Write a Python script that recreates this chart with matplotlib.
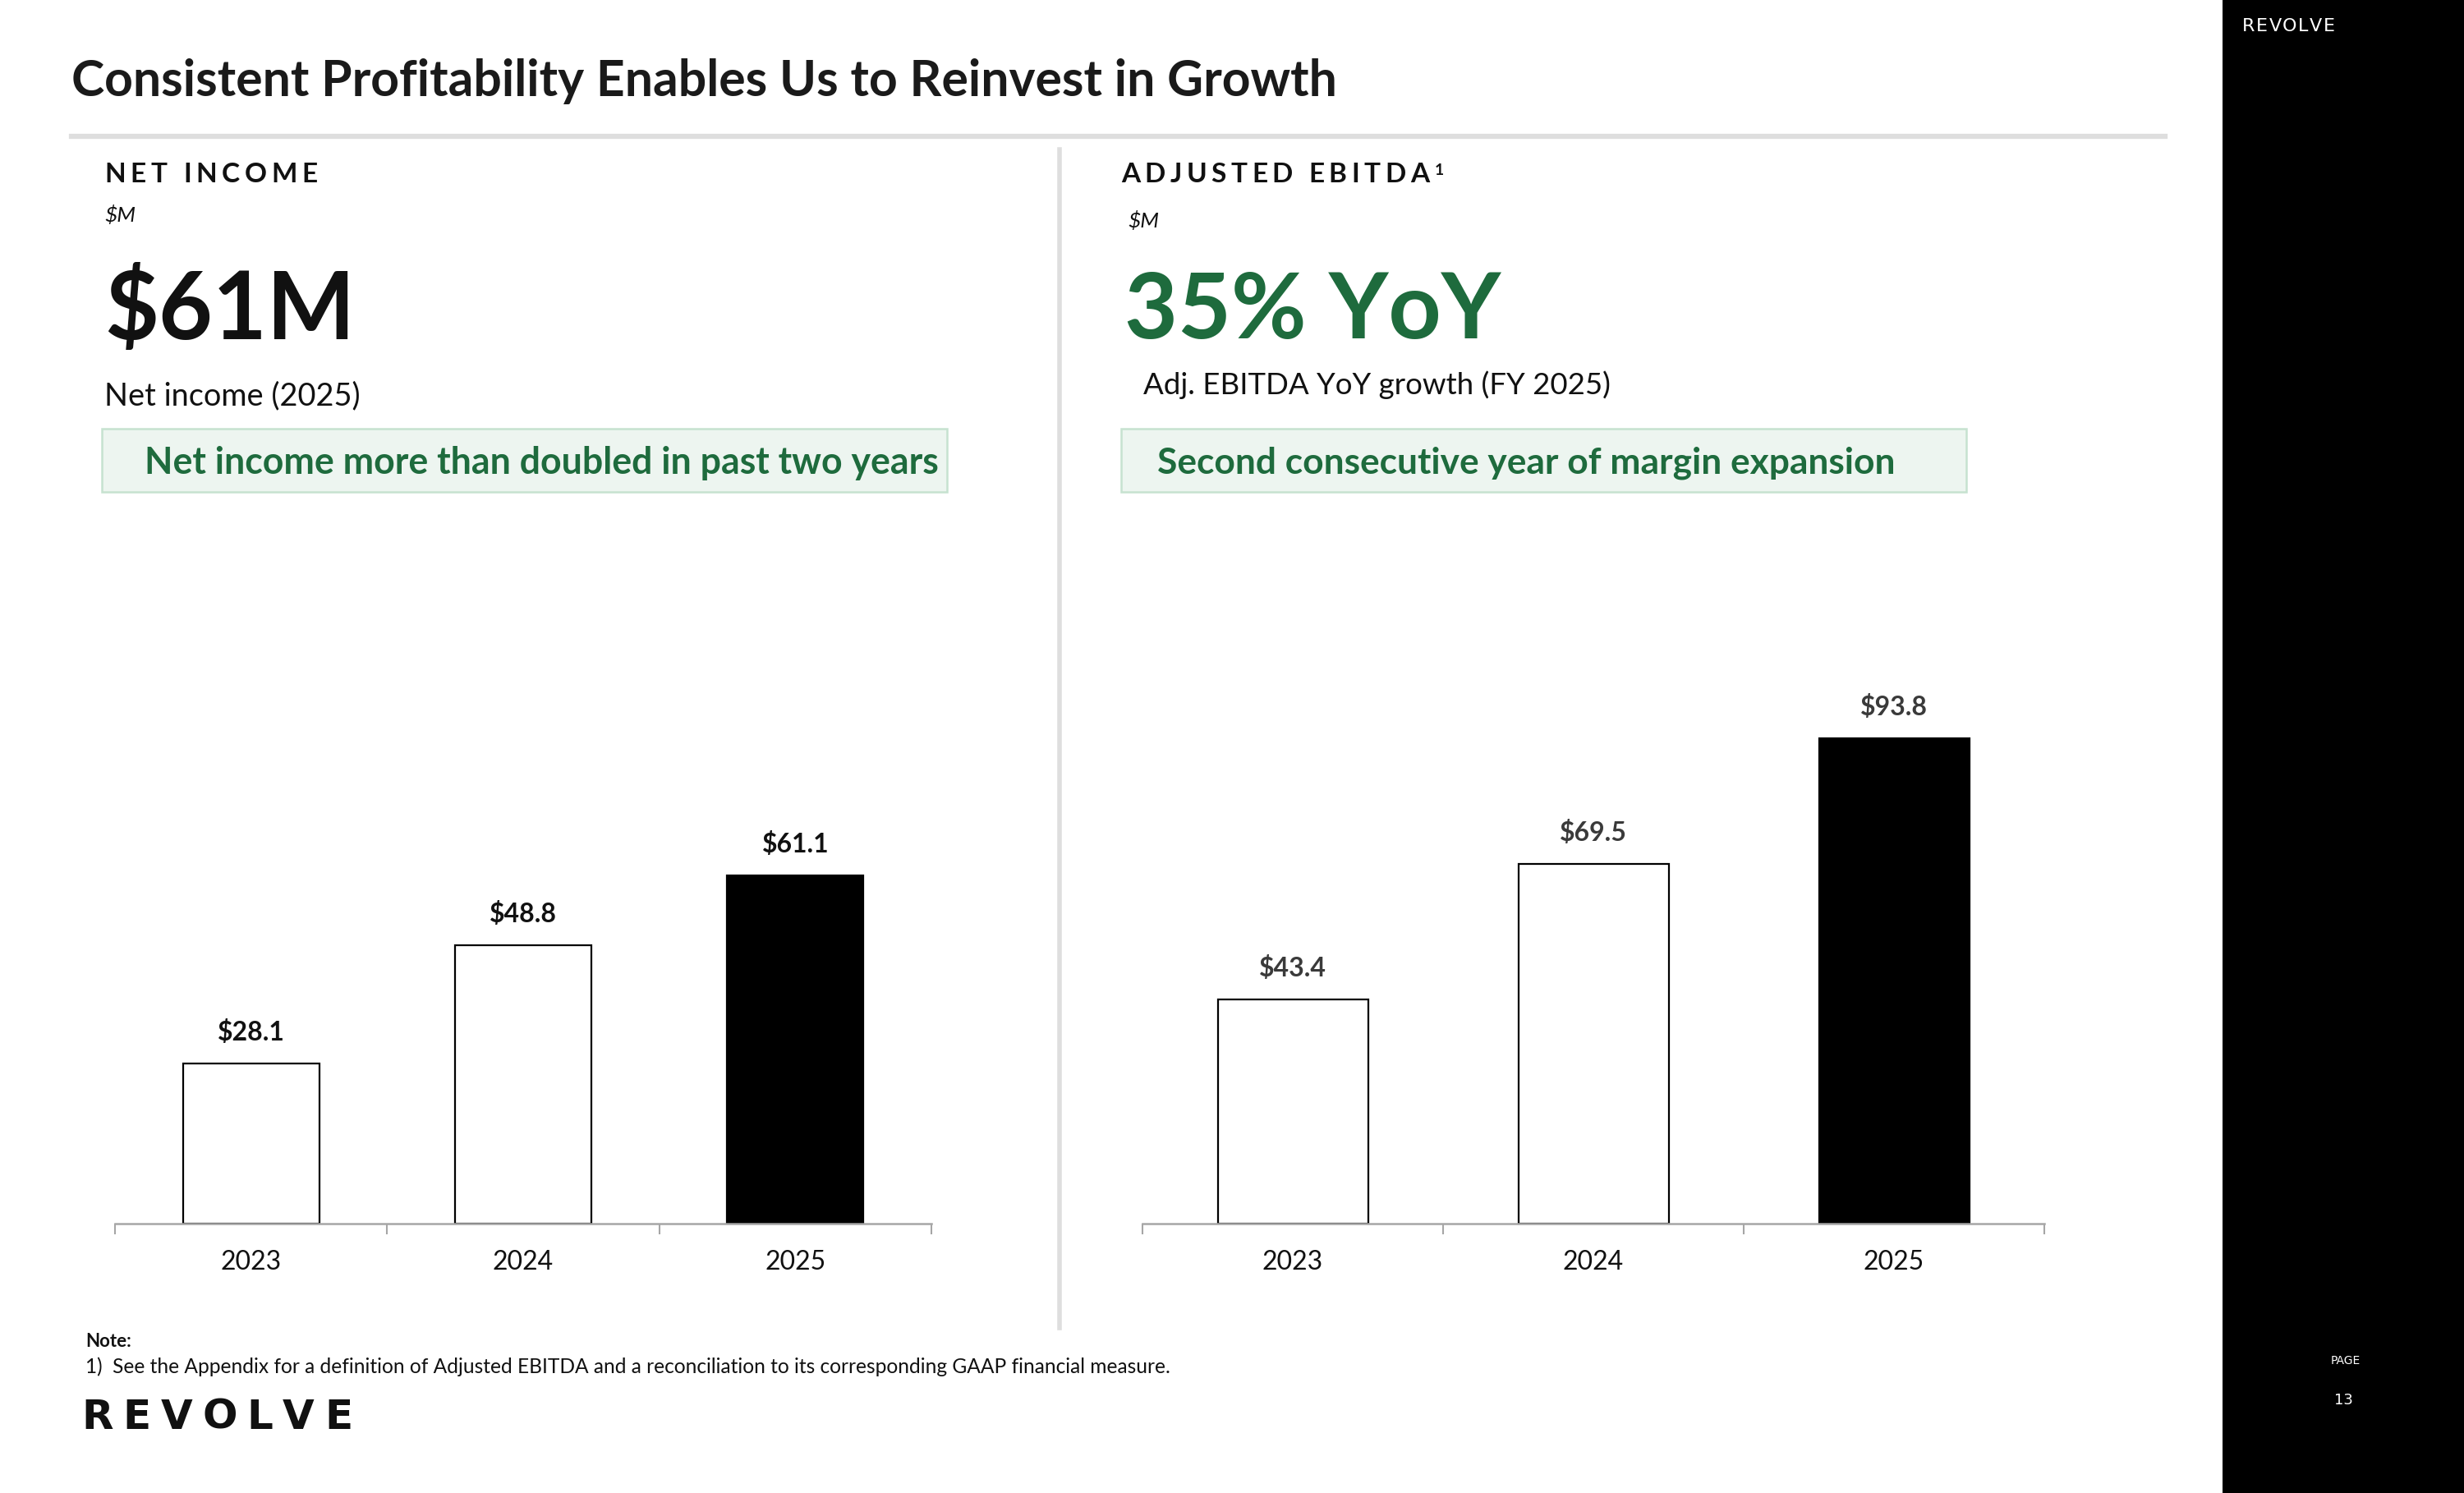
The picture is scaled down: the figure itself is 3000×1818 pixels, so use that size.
import matplotlib
matplotlib.use('Agg')
import matplotlib.pyplot as plt
from matplotlib.patches import Rectangle
from matplotlib.lines import Line2D

plt.rcParams['font.family'] = ['Lato', 'DejaVu Sans']

# chart data
years = ['2023', '2024', '2025']
net_income = [28.1, 48.8, 61.1]
adj_ebitda = [43.4, 69.5, 93.8]
bar_fill = ['white', 'white', 'black']

title = 'Consistent Profitability Enables Us to Reinvest in Growth'
left_head = 'NET INCOME'
right_head = 'ADJUSTED EBITDA'
left_big = '$61M'
right_big = '35% YoY'
left_sub = 'Net income (2025)'
right_sub = 'Adj. EBITDA YoY growth (FY 2025)'
left_box = 'Net income more than doubled in past two years'
right_box = 'Second consecutive year of margin expansion'
note_text = '1)  See the Appendix for a definition of Adjusted EBITDA and a reconciliation to its corresponding GAAP financial measure.'

GREEN = '#1e6b3d'
W, H = 3000, 1818

fig = plt.figure(figsize=(30, 18.18), dpi=100)
renderer = fig.canvas.get_renderer()


def fx(x):
    return x / W


def fy(y):
    return 1 - y / H


# text scaled so that it spans the given pixel width
def fit_text(x, y, s, width, **kw):
    t = fig.text(fx(x), fy(y), s, va='baseline', **kw)
    w = t.get_window_extent(renderer).width
    t.set_fontsize(t.get_fontsize() * width / w)
    return t


# letter spaced text, stretched to the given pixel width
def spaced_text(x, y, s, width, size, **kw):
    chars = []
    widths = []
    for ch in s:
        t = fig.text(fx(x), fy(y), ch, va='baseline', fontsize=size, **kw)
        chars.append(t)
        if ch == ' ':
            widths.append(size * 0.25 * 100 / 72)
        else:
            widths.append(t.get_window_extent(renderer).width)
    gap = (width - sum(widths)) / max(len(s) - 1, 1)
    pos = x
    for t, w in zip(chars, widths):
        t.set_x(fx(pos))
        pos += w + gap
    return pos


# black side panel
fig.patches.append(Rectangle((fx(2706), 0), 1 - fx(2706), 1, transform=fig.transFigure,
                             facecolor='black', edgecolor='none', zorder=0))
spaced_text(2730, 38, 'REVOLVE', 113, 16, color='white', family='DejaVu Sans')
fig.text(fx(2856), fy(1657), 'PAGE', color='white', fontsize=10, ha='center', va='center',
         family='DejaVu Sans')
fig.text(fx(2853), fy(1705), '13', color='white', fontsize=13, ha='center', va='center',
         family='DejaVu Sans')

# title and separators
fit_text(87, 117, title, 1540, fontsize=40, fontweight='bold', color='#1a1a1a')
fig.add_artist(Line2D([fx(87), fx(2636)], [fy(166), fy(166)], color='#dedede', linewidth=4.5))
fig.add_artist(Line2D([fx(1290), fx(1290)], [fy(182), fy(1617)], color='#dedede', linewidth=4))

# headers
spaced_text(127, 222, left_head, 260, 24, fontweight='bold', color='#111111')
spaced_text(1365, 222, right_head, 375, 24, fontweight='bold', color='#111111')
fig.text(fx(1747), fy(213), '1', fontsize=14, fontweight='bold', color='#111111', va='baseline')
fig.text(fx(127), fy(270), '$M', fontsize=19, style='italic', color='#111111', va='baseline')
fig.text(fx(1373), fy(277), '$M', fontsize=19, style='italic', color='#111111', va='baseline')

fit_text(127, 413, left_big, 305, fontsize=80, fontweight='bold', color='#111111')
fit_text(1369, 412, right_big, 458, fontsize=80, fontweight='bold', color=GREEN)
fit_text(127, 493, left_sub, 311, fontsize=26, color='#111111')
fit_text(1392, 480, right_sub, 568, fontsize=26, color='#111111')

# highlight boxes
for x0, x1 in [(124, 1153), (1365, 2394)]:
    fig.patches.append(Rectangle((fx(x0), fy(599)), fx(x1) - fx(x0), fy(522) - fy(599),
                                 transform=fig.transFigure, facecolor='#edf5f0',
                                 edgecolor='#c6e2d0', linewidth=1.8, zorder=1))
fit_text(176, 577, left_box, 966, fontsize=28, fontweight='bold', color=GREEN)
fit_text(1409, 577, right_box, 898, fontsize=28, fontweight='bold', color=GREEN)


# bar chart panels
def bar_panel(rect, values, ymax, label_color):
    ax = fig.add_axes(rect)
    x = range(len(years))
    ax.bar(x, values, width=0.5, color=bar_fill, edgecolor='black', linewidth=1.6, zorder=2)
    for i, v in enumerate(values):
        ax.annotate('${:.1f}'.format(v), (i, v), xytext=(0, 28), textcoords='offset pixels',
                    ha='center', va='baseline', fontsize=23, fontweight='bold', color=label_color)
    ax.set_xlim(-0.5, len(years) - 0.5)
    ax.set_ylim(0, ymax)
    ax.set_xticks(list(x))
    ax.set_xticklabels(years, fontsize=23, color='#111111')
    ax.set_xticks([-0.5, 0.5, 1.5, 2.5], minor=True)
    ax.tick_params(axis='x', which='major', length=0, pad=23)
    ax.tick_params(axis='x', which='minor', length=9, width=1.5, color='#a6a6a6', direction='out')
    ax.set_yticks([])
    for side in ['top', 'left', 'right']:
        ax.spines[side].set_visible(False)
    ax.spines['bottom'].set_color('#a6a6a6')
    ax.spines['bottom'].set_linewidth(1.8)
    ax.patch.set_alpha(0)
    return ax


axes_h = (1490 - 765) / H
bar_panel([fx(140), fy(1490), (1134 - 140) / W, axes_h], net_income, 104.5, '#111111')
bar_panel([fx(1391), fy(1490), (2489 - 1391) / W, axes_h], adj_ebitda, 115.1, '#3a3a3a')

# footnote and logo
fig.text(fx(104), fy(1640), 'Note:', fontsize=16, fontweight='bold', color='#111111', va='baseline')
fit_text(104, 1672, note_text, 1323, fontsize=15, color='#111111')
spaced_text(99, 1740, 'REVOLVE', 330, 36, fontweight='bold', color='#111111', family='DejaVu Sans')

fig.savefig('out.png', dpi=100, facecolor='white')
